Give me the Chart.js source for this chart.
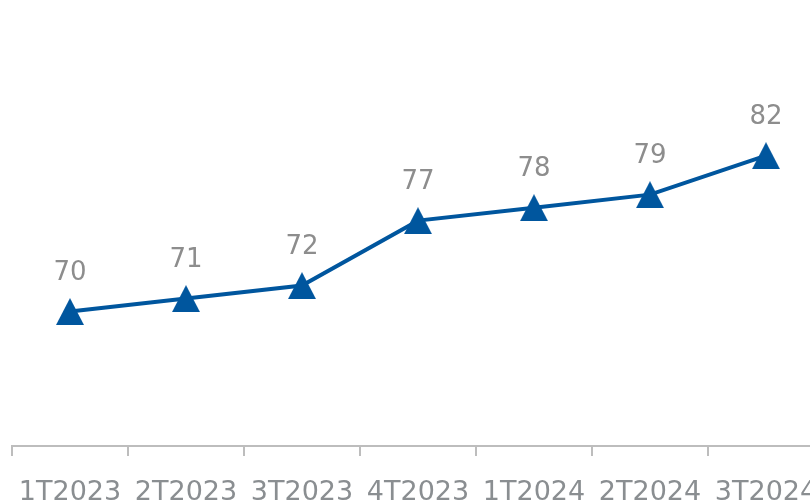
<!DOCTYPE html>
<html>
<head>
<meta charset="utf-8">
<script src="https://cdn.jsdelivr.net/npm/chart.js@4.4.1/dist/chart.umd.min.js"></script>
<style>
  html, body { margin: 0; padding: 0; background: #fff; overflow: hidden; width: 810px; height: 504px; }
  /* o canvas é maior que a janela: o último trimestre fica cortado à direita */
  #wrap { position: absolute; left: -6px; top: 0; width: 848px; height: 529px; }
</style>
</head>
<body>
<div id="wrap"><canvas id="chart"></canvas></div>
<script>
  // trimestres e valores
  const quarters = ['1T2023', '2T2023', '3T2023', '4T2023', '1T2024', '2T2024', '3T2024'];
  const values = [70, 71, 72, 77, 78, 79, 82];

  const BLUE = '#00569e';
  const LABEL_GRAY = '#8d8d8d';
  const AXIS_GRAY = '#bdbdbd';

  // marcador triangular desenhado num canvas à parte
  function triangleMarker(w, h, color) {
    const c = document.createElement('canvas');
    c.width = w; c.height = h;
    const ctx = c.getContext('2d');
    ctx.fillStyle = color;
    ctx.beginPath();
    ctx.moveTo(w / 2, 0);
    ctx.lineTo(w, h);
    ctx.lineTo(0, h);
    ctx.closePath();
    ctx.fill();
    return c;
  }

  // rótulos de valor acima de cada ponto
  const valueLabels = {
    id: 'valueLabels',
    afterDatasetsDraw(chart) {
      const ctx = chart.ctx;
      const meta = chart.getDatasetMeta(0);
      ctx.save();
      ctx.font = '26px "DejaVu Sans"';
      ctx.fillStyle = LABEL_GRAY;
      ctx.textAlign = 'center';
      ctx.textBaseline = 'alphabetic';
      meta.data.forEach((pt, i) => {
        ctx.fillText(String(values[i]), pt.x, pt.y - 32);
      });
      ctx.restore();
    }
  };

  new Chart(document.getElementById('chart'), {
    type: 'line',
    data: {
      labels: quarters,
      datasets: [{
        data: values,
        borderColor: BLUE,
        borderWidth: 4,
        tension: 0,
        pointStyle: triangleMarker(28, 27, BLUE),
        pointRadius: 14,
        pointHoverRadius: 14
      }]
    },
    options: {
      responsive: true,
      maintainAspectRatio: false,
      animation: false,
      layout: { padding: 0 },
      plugins: { legend: { display: false }, tooltip: { enabled: false } },
      scales: {
        x: {
          offset: true,
          grid: {
            offset: true,
            drawOnChartArea: false,
            drawTicks: true,
            tickLength: 10,
            color: AXIS_GRAY,
            lineWidth: 2
          },
          border: { display: true, color: AXIS_GRAY, width: 2 },
          ticks: {
            color: '#8a8e91',
            font: { family: 'DejaVu Sans', size: 27, lineHeight: 1 },
            padding: 23,
            maxRotation: 0,
            autoSkip: false
          }
        },
        y: {
          display: false,
          min: 59.65,
          max: 92.6
        }
      }
    },
    plugins: [valueLabels]
  });
</script>
</body>
</html>
